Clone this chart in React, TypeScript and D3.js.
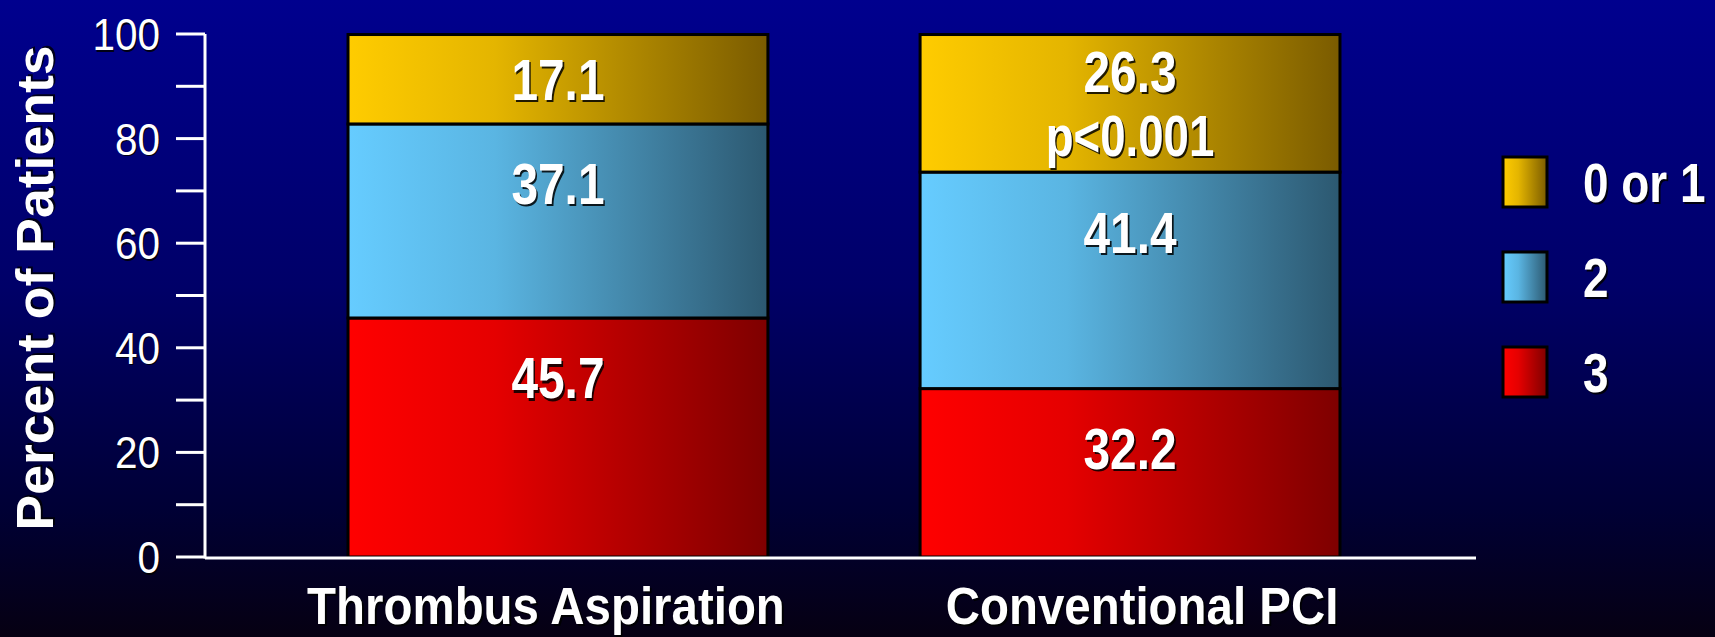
import React from "react";
import * as d3 from "d3";

const categories = ["Thrombus Aspiration", "Conventional PCI"];
const seriesKeys = ["3", "2", "0 or 1"];
const legendOrder = ["0 or 1", "2", "3"];
const values3 = [45.7, 32.2];
const values2 = [37.1, 41.4];
const values01 = [17.1, 26.3];
const notes = ["", "p<0.001"];
const yTicksMajor = [0, 20, 40, 60, 80, 100];
const yTicksMinor = [10, 30, 50, 70, 90];
const yTitle = "Percent of Patients";

const W = 1715;
const H = 637;

const gradients: Record<string, [string, string]> = {
  "0 or 1": ["#FFCC00", "#7A5B00"],
  "2": ["#66CCFF", "#2C5870"],
  "3": ["#FF0000", "#7E0000"],
};
const gradId: Record<string, string> = { "0 or 1": "g01", "2": "g2", "3": "g3" };

const FONT = "Liberation Sans, Arial, Helvetica, sans-serif";

function ShadowText(props: {
  x: number;
  y: number;
  text: string;
  size: number;
  sx?: number;
  weight?: string | number;
  anchor?: string;
  shadow?: number;
}) {
  const { x, y, text, size, sx = 1, weight = "bold", anchor = "middle", shadow = 2 } = props;
  const common = {
    fontFamily: FONT,
    fontSize: size,
    fontWeight: weight as any,
    textAnchor: anchor as any,
  };
  return (
    <g transform={`translate(${x},${y}) scale(${sx},1)`}>
      {shadow > 0 && (
        <text x={shadow} y={shadow} fill="#000" fillOpacity={0.85} {...common}>
          {text}
        </text>
      )}
      <text x={0} y={0} fill="#fff" {...common}>
        {text}
      </text>
    </g>
  );
}

export default function App() {
  const rows = categories.map((c, i) => ({
    category: c,
    "3": values3[i],
    "2": values2[i],
    "0 or 1": values01[i],
    note: notes[i],
  }));

  const stacked = d3.stack<any>().keys(seriesKeys)(rows);

  const y = d3.scaleLinear().domain([0, 100]).range([557, 34]);
  const x = d3
    .scaleBand<string>()
    .domain(categories)
    .range([205, 1483])
    .paddingInner(0.266)
    .paddingOuter(0.25);

  const axisX = 205;
  const axisEnd = 1476;
  const capH = 41;

  return (
    <svg
      width={W}
      height={H}
      style={{ position: "absolute", left: 0, top: 0, display: "block" }}
    >
      <defs>
        <linearGradient id="bg" x1="0" y1="0" x2="0" y2="1">
          <stop offset="0" stopColor="#00008E" />
          <stop offset="0.45" stopColor="#000068" />
          <stop offset="0.8" stopColor="#000035" />
          <stop offset="1" stopColor="#060012" />
        </linearGradient>
        {seriesKeys.map((k) => (
          <linearGradient key={k} id={gradId[k]} x1="0" y1="0" x2="1" y2="0">
            <stop offset="0" stopColor={gradients[k][0]} />
            <stop offset="0.35" stopColor={d3.interpolateRgb(gradients[k][0], gradients[k][1])(0.2)} />
            <stop offset="1" stopColor={gradients[k][1]} />
          </linearGradient>
        ))}
      </defs>
      <rect x={0} y={0} width={W} height={H} fill="url(#bg)" />

      {/* bars */}
      {stacked.map((layer) => (
        <g key={layer.key}>
          {layer.map((d, i) => {
            const cat = categories[i];
            const top = y(d[1]);
            const bot = y(d[0]);
            return (
              <rect
                key={cat}
                x={x(cat)}
                y={top}
                width={x.bandwidth()}
                height={bot - top}
                fill={`url(#${gradId[layer.key]})`}
                stroke="#000"
                strokeWidth={3}
              />
            );
          })}
        </g>
      ))}

      {/* value labels */}
      {stacked.map((layer) =>
        layer.map((d, i) => {
          const cat = categories[i];
          const top = y(d[1]);
          const bot = y(d[0]);
          const h = bot - top;
          const cx = (x(cat) as number) + x.bandwidth() / 2;
          const val = d[1] - d[0];
          const hasNote = layer.key === "0 or 1" && notes[i];
          const center = hasNote ? top + 37 : top + Math.min(60, h / 2);
          return (
            <g key={layer.key + cat}>
              <ShadowText
                x={cx}
                y={center + capH / 2}
                text={val.toFixed(1)}
                size={57}
                sx={0.84}
              />
              {hasNote && (
                <ShadowText
                  x={cx}
                  y={center + 64 + capH / 2}
                  text={notes[i]}
                  size={57}
                  sx={0.8}
                />
              )}
            </g>
          );
        })
      )}

      {/* y axis */}
      <line x1={axisX} x2={axisX} y1={y(100)} y2={y(0) + 1.5} stroke="#fff" strokeWidth={3} />
      {[...yTicksMajor, ...yTicksMinor].map((t) => (
        <line key={t} x1={176} x2={axisX} y1={y(t)} y2={y(t)} stroke="#fff" strokeWidth={3} />
      ))}
      {yTicksMajor.map((t) => (
        <ShadowText
          key={t}
          x={160}
          y={y(t) + 16}
          text={String(t)}
          size={45}
          sx={0.9}
          weight="normal"
          anchor="end"
          shadow={1.5}
        />
      ))}

      {/* x axis */}
      <line x1={axisX} x2={axisEnd} y1={y(0) + 1} y2={y(0) + 1} stroke="#fff" strokeWidth={3} />
      {categories.map((c) => (
        <ShadowText
          key={c}
          x={(x(c) as number) + x.bandwidth() / 2 - 12 + (c === "Conventional PCI" ? 24 : 0)}
          y={624}
          text={c}
          size={51}
          sx={0.93}
        />
      ))}

      {/* y title */}
      <g transform={`translate(53,288) rotate(-90)`}>
        <text
          x={2}
          y={2}
          fill="#000"
          fillOpacity={0.8}
          fontFamily={FONT}
          fontSize={52}
          fontWeight="bold"
          textAnchor="middle"
          textLength={485}
          lengthAdjust="spacingAndGlyphs"
        >
          {yTitle}
        </text>
        <text
          x={0}
          y={0}
          fill="#fff"
          fontFamily={FONT}
          fontSize={52}
          fontWeight="bold"
          textAnchor="middle"
          textLength={485}
          lengthAdjust="spacingAndGlyphs"
        >
          {yTitle}
        </text>
      </g>

      {/* legend */}
      {legendOrder.map((k, i) => {
        const cy = 182 + i * 95;
        return (
          <g key={k}>
            <rect
              x={1503}
              y={cy - 25}
              width={44}
              height={50}
              fill={`url(#${gradId[k]})`}
              stroke="#000"
              strokeWidth={3}
            />
            <ShadowText x={1583} y={cy + 20} text={k} size={56} sx={0.82} anchor="start" />
          </g>
        );
      })}
    </svg>
  );
}
